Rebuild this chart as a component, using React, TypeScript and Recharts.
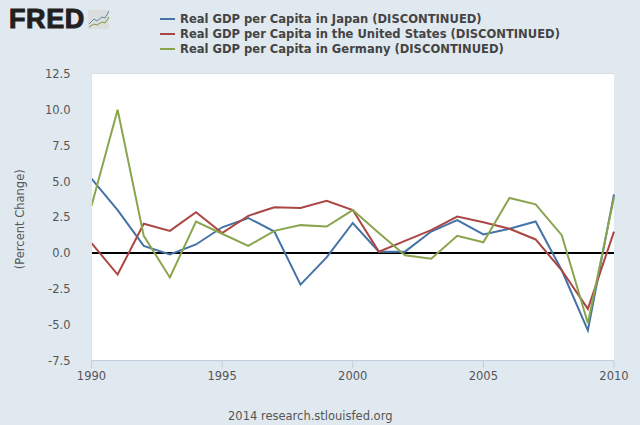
import React from 'react'
import { LineChart, Line, XAxis, YAxis, CartesianGrid, ReferenceLine } from 'recharts'

const years = [1990, 1991, 1992, 1993, 1994, 1995, 1996, 1997, 1998, 1999, 2000, 2001, 2002, 2003, 2004, 2005, 2006, 2007, 2008, 2009, 2010]
const japan = [5.2, 3.0, 0.5, -0.1, 0.6, 1.8, 2.45, 1.5, -2.2, -0.3, 2.1, 0.1, 0.1, 1.5, 2.3, 1.3, 1.7, 2.2, -1.2, -5.4, 4.1]
const us = [0.7, -1.5, 2.05, 1.55, 2.85, 1.4, 2.6, 3.2, 3.15, 3.65, 3.0, 0.1, 0.85, 1.6, 2.55, 2.15, 1.7, 0.95, -1.2, -3.9, 1.5]
const germany = [3.3, 10.0, 1.2, -1.7, 2.2, 1.35, 0.5, 1.55, 1.95, 1.85, 3.0, 1.4, -0.15, -0.4, 1.2, 0.75, 3.85, 3.4, 1.25, -4.9, 3.9]

const yTicks = [-7.5, -5, -2.5, 0, 2.5, 5, 7.5, 10, 12.5]
const xTicks = [1990, 1995, 2000, 2005, 2010]

const seriesInfo = [
  { key: 'japan', name: 'Real GDP per Capita in Japan (DISCONTINUED)', color: '#4572a7' },
  { key: 'us', name: 'Real GDP per Capita in the United States (DISCONTINUED)', color: '#aa4643' },
  { key: 'germany', name: 'Real GDP per Capita in Germany (DISCONTINUED)', color: '#89a54e' },
]

const data = years.map((year, i) => ({ year, japan: japan[i], us: us[i], germany: germany[i] }))

const FONT = '"DejaVu Sans", sans-serif'

function LegendBox() {
  return (
    <div style={{ position: 'absolute', left: 160, top: 11.5, fontFamily: FONT, fontWeight: 700, fontSize: 11.55, color: '#444' }}>
      {seriesInfo.map(s => (
        <div key={s.key} style={{ display: 'flex', alignItems: 'center', height: 15.2, whiteSpace: 'nowrap' }}>
          <span style={{ width: 15, height: 2, background: s.color, marginRight: 5 }} />
          {s.name}
        </div>
      ))}
    </div>
  )
}

function Logo() {
  return (
    <div style={{ position: 'absolute', left: 9, top: 6, width: 100, height: 26 }}>
      <span style={{
        position: 'absolute', left: 0, top: 0, fontFamily: '"Liberation Sans", sans-serif', fontWeight: 700,
        fontSize: 27, lineHeight: '27px', color: '#231f20', WebkitTextStroke: '1px #231f20', letterSpacing: 0.6,
      }}>FRED</span>
      <svg width={22} height={20} style={{ position: 'absolute', left: 79, top: 4 }}>
        <rect x={0} y={0} width={21} height={19} fill="#dcdedd" />
        <polyline points="1,14 6,9 9,11 14,7 17,8 21,1" fill="none" stroke="#5f86ab" strokeWidth={1} />
        <polyline points="1,17 6,14 9,15 14,12 17,13 21,7" fill="none" stroke="#7d9a40" strokeWidth={1} />
      </svg>
    </div>
  )
}

export default function App() {
  return (
    <div style={{ position: 'absolute', left: 0, top: 0, width: 640, height: 425, background: '#e1e9f0', overflow: 'hidden' }}>
      <LineChart width={640} height={425} data={data} margin={{ top: 74, right: 26, bottom: 0, left: 0 }}>
        <rect x={91.5} y={74} width={522.5} height={286.5} fill="#ffffff" />
        <CartesianGrid horizontal vertical={false} stroke="#d8d8d8" strokeWidth={1.5} />
        <XAxis
          dataKey="year"
          type="number"
          domain={[1990, 2010]}
          ticks={xTicks}
          height={64.5}
          tick={{ fill: '#555', fontSize: 11.5, fontFamily: FONT }}
          tickLine={{ stroke: '#c0d0e0' }}
          tickSize={8}
          tickMargin={3}
          axisLine={{ stroke: '#c0d0e0' }}
          interval={0}
        />
        <YAxis
          domain={[-7.5, 12.5]}
          ticks={yTicks}
          tickFormatter={(v: number) => v.toFixed(1)}
          width={91.5}
          tick={{ fill: '#555', fontSize: 11.5, fontFamily: FONT }}
          tickLine={false}
          axisLine={{ stroke: '#dde6ee' }}
          tickMargin={15}
          interval={0}
          allowDataOverflow
          label={{
            value: '(Percent Change)',
            angle: -90,
            position: 'insideLeft',
            offset: 0,
            dx: 20,
            dy: 2,
            style: { fill: '#555', fontSize: 11.5, fontFamily: FONT, textAnchor: 'middle' },
          }}
        />
        <ReferenceLine y={0} stroke="#000000" strokeWidth={2} />
        {seriesInfo.map(s => (
          <Line
            key={s.key}
            type="linear"
            dataKey={s.key}
            name={s.name}
            stroke={s.color}
            strokeWidth={2}
            dot={false}
            isAnimationActive={false}
          />
        ))}
      </LineChart>
      <LegendBox />
      <Logo />
      <div style={{ position: 'absolute', left: 228, top: 408, fontFamily: FONT, fontSize: 11.5, lineHeight: '16px', color: '#555', whiteSpace: 'nowrap' }}>
        2014 research.stlouisfed.org
      </div>
    </div>
  )
}
